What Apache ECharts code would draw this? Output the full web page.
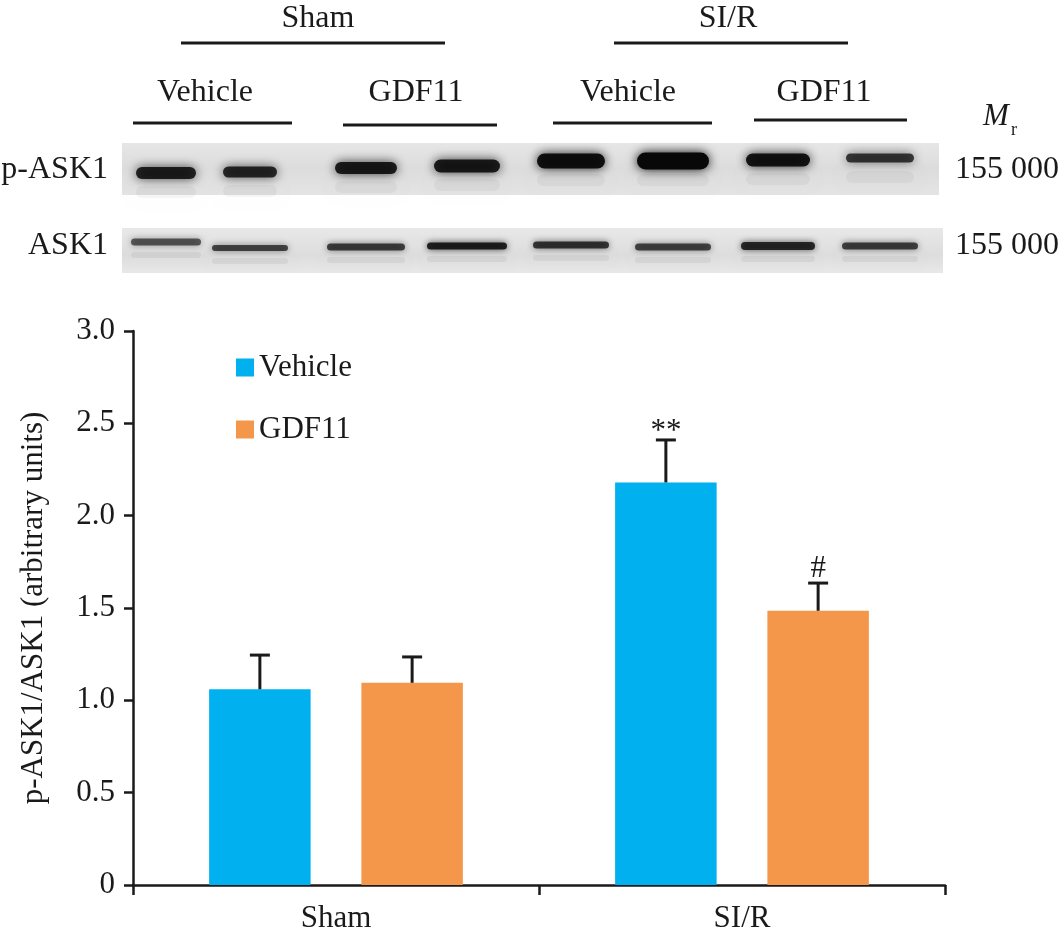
<!DOCTYPE html>
<html>
<head>
    <meta charset="utf-8">
    <title> ECharts </title>
    <script src="https://cdn.jsdelivr.net/npm/echarts@6/dist/echarts.min.js"></script>
    <style>
        html, body { margin: 0; padding: 0; background: #fff; }
    </style>
</head>
<body>

<div id='graph_1' style='width: 1061px;height:935px;'></div>
<script language='javascript' type='text/javascript'>
    // bar chart data
    var categories = ['Sham', 'SI/R'];
    var series_names = ['Vehicle', 'GDF11'];
    var vehicle_mean = [1.06, 2.18];
    var vehicle_upper = [1.245, 2.41];   // mean + error
    var gdf11_mean = [1.095, 1.485];
    var gdf11_upper = [1.235, 1.635];
    var vehicle_marks = ['', '**'];
    var gdf11_marks = ['', '#'];

    // western blot header
    var blot_groups = ['Sham', 'SI/R'];
    var blot_treat = ['Vehicle', 'GDF11', 'Vehicle', 'GDF11'];
    var blot_rows = ['p-ASK1', 'ASK1'];
    var blot_mr = ['155 000', '155 000'];
    // band intensity per lane (0..1), 8 lanes
    var p_ask1_dark = [0.85, 0.82, 0.88, 0.88, 0.95, 1.0, 0.92, 0.75];
    var ask1_dark = [0.6, 0.68, 0.7, 0.85, 0.75, 0.68, 0.8, 0.7];

    var FONT = "'Liberation Serif', 'Times New Roman', serif";
    var INK = '#1a1a1a';
    var BLUE = '#00b0ef';
    var ORANGE = '#f5974a';

    // ---- blot drawing (decorative picture) ----
    var lane_x = [166, 250, 366, 467, 571, 673, 778, 880];
    var p_y = [173, 172, 168, 166, 161, 161, 160, 158];
    var p_w = [60, 54, 62, 66, 68, 72, 64, 68];
    var p_h = [12, 11, 12, 13, 15, 17, 13, 9];
    var t_y = [242, 248, 247, 246, 245, 247, 246, 246];
    var t_w = [70, 76, 78, 80, 76, 76, 74, 76];
    var t_h = [7, 6, 7, 7, 7, 7, 8, 7];

    function band(cx, cy, w, h, d, blur) {
        var c = 'rgba(8,8,8,' + d.toFixed(3) + ')';
        return {
            type: 'rect', silent: true,
            shape: {x: cx - w / 2, y: cy - h / 2, width: w, height: h, r: h / 2},
            style: {fill: c, shadowBlur: blur, shadowColor: c}
        };
    }

    var graphic = [];
    // blot backgrounds
    graphic.push({type: 'rect', silent: true, shape: {x: 122, y: 143, width: 817, height: 52},
        style: {fill: {type: 'linear', x: 0, y: 0, x2: 0, y2: 1, colorStops: [
            {offset: 0, color: '#e6e6e6'}, {offset: 0.5, color: '#dcdcdc'}, {offset: 1, color: '#e4e4e4'}]}}});
    graphic.push({type: 'rect', silent: true, shape: {x: 122, y: 228, width: 821, height: 45},
        style: {fill: {type: 'linear', x: 0, y: 0, x2: 0, y2: 1, colorStops: [
            {offset: 0, color: '#e8e8e8'}, {offset: 0.6, color: '#dddddd'}, {offset: 1, color: '#e8e8e8'}]}}});
    lane_x.forEach(function (x, i) {
        // faint smear under bands
        graphic.push({type: 'rect', silent: true,
            shape: {x: x - p_w[i] / 2, y: p_y[i] + 13, width: p_w[i], height: 12, r: 6},
            style: {fill: 'rgba(0,0,0,0.04)', shadowBlur: 12, shadowColor: 'rgba(0,0,0,0.08)'}});
        graphic.push({type: 'rect', silent: true,
            shape: {x: x - t_w[i] / 2, y: t_y[i] + 10, width: t_w[i], height: 6, r: 3},
            style: {fill: 'rgba(0,0,0,0.05)', shadowBlur: 8, shadowColor: 'rgba(0,0,0,0.08)'}});
        graphic.push(band(x, p_y[i], p_w[i], p_h[i], p_ask1_dark[i], 11));
        graphic.push(band(x, t_y[i], t_w[i], t_h[i], ask1_dark[i], 7));
    });
    // header lines and labels
    var group_line = [[181, 445], [614, 848]];
    var group_cx = [318, 728];
    blot_groups.forEach(function (g, i) {
        var l = group_line[i];
        graphic.push({type: 'line', silent: true, shape: {x1: l[0], y1: 43, x2: l[1], y2: 43},
            style: {stroke: INK, lineWidth: 3}});
        graphic.push({type: 'text', silent: true, x: group_cx[i], y: 19,
            style: {text: g, font: '32px ' + FONT, fill: INK, align: 'center', verticalAlign: 'middle'}});
    });
    var treat_line = [[133, 292, 123], [343, 497, 125], [553, 712, 123], [754, 907, 120]];
    var treat_cx = [205, 416, 628, 824];
    blot_treat.forEach(function (t, i) {
        var l = treat_line[i];
        graphic.push({type: 'line', silent: true, shape: {x1: l[0], y1: l[2], x2: l[1], y2: l[2]},
            style: {stroke: INK, lineWidth: 3}});
        graphic.push({type: 'text', silent: true, x: treat_cx[i], y: 93,
            style: {text: t, font: '32px ' + FONT, fill: INK, align: 'center', verticalAlign: 'middle'}});
    });
    var row_y = [170, 246];
    blot_rows.forEach(function (r, i) {
        graphic.push({type: 'text', silent: true, x: 108, y: row_y[i],
            style: {text: r, font: '32px ' + FONT, fill: INK, align: 'right', verticalAlign: 'middle'}});
        graphic.push({type: 'text', silent: true, x: 1059, y: row_y[i],
            style: {text: blot_mr[i], font: '32px ' + FONT, fill: INK, align: 'right', verticalAlign: 'middle'}});
    });
    graphic.push({type: 'text', silent: true, x: 983, y: 117,
        style: {text: 'M', font: 'italic 31px ' + FONT, fill: INK, align: 'left', verticalAlign: 'middle'}});
    graphic.push({type: 'text', silent: true, x: 1011, y: 130,
        style: {text: 'r', font: '18px ' + FONT, fill: INK, align: 'left', verticalAlign: 'middle'}});

    // ---- error bar data ----
    var err_data = [];
    categories.forEach(function (c, i) {
        err_data.push([i, vehicle_mean[i], vehicle_upper[i], 0, vehicle_marks[i]]);
        err_data.push([i, gdf11_mean[i], gdf11_upper[i], 1, gdf11_marks[i]]);
    });
    // glyph-dependent vertical nudge for the significance marks
    var mark_nudge = {'**': 10, '#': 4};

    function renderErr(params, api) {
        var idx = api.value(0);
        var band_w = api.size([1, 0])[0];
        var side = api.value(3) === 0 ? -1 : 1;
        var off = side * band_w * 0.25 * 1.5 / 2;
        var base = api.coord([idx, api.value(1)]);
        var top = api.coord([idx, api.value(2)]);
        var x = base[0] + off;
        var mark = err_data[params.dataIndex][4];
        var kids = [
            {type: 'line', shape: {x1: x, y1: base[1], x2: x, y2: top[1]},
             style: {stroke: INK, lineWidth: 3}},
            {type: 'line', shape: {x1: x - 10, y1: top[1], x2: x + 10, y2: top[1]},
             style: {stroke: INK, lineWidth: 3}}
        ];
        if (mark) {
            kids.push({type: 'text', x: x, y: top[1] - 3 + (mark_nudge[mark] || 0),
                style: {text: mark, font: '31px ' + FONT, fill: INK, align: 'center',
                        verticalAlign: 'bottom'}});
        }
        return {type: 'group', children: kids};
    }

    var x = document.getElementById('graph_1');
    var myChart = echarts.init(x, null, {renderer: 'canvas'});
    var option = {
        animation: false,
        textStyle: {fontFamily: FONT},
        graphic: graphic,
        legend: {
            orient: 'vertical', left: 231, top: 347,
            itemWidth: 18, itemHeight: 18, itemGap: 31,
            icon: 'rect',
            data: series_names,
            textStyle: {fontFamily: FONT, fontSize: 31, color: INK, padding: [0, 0, 0, 0]}
        },
        grid: {left: 133, top: 331, right: 116, bottom: 50},
        xAxis: {
            type: 'category', data: categories,
            axisLine: {lineStyle: {color: INK, width: 2.5}},
            axisTick: {show: true, length: 10, alignWithLabel: false, lineStyle: {color: INK, width: 2.5}},
            axisLabel: {fontFamily: FONT, fontSize: 31, color: INK, margin: 18}
        },
        yAxis: {
            type: 'value', min: 0, max: 3, interval: 0.5,
            name: 'p-ASK1/ASK1 (arbitrary units)',
            nameLocation: 'middle', nameGap: 84,
            nameTextStyle: {fontFamily: FONT, fontSize: 31, color: INK},
            splitLine: {show: false},
            axisLine: {show: true, lineStyle: {color: INK, width: 2.5}},
            axisTick: {show: true, length: 9, lineStyle: {color: INK, width: 2.5}},
            axisLabel: {fontFamily: FONT, fontSize: 31, color: INK, margin: 18,
                formatter: function (v) { return v === 0 ? '0' : v.toFixed(1); }}
        },
        series: [
            {name: series_names[0], type: 'bar', data: vehicle_mean, barWidth: '25%', barGap: '50%',
             itemStyle: {color: BLUE}},
            {name: series_names[1], type: 'bar', data: gdf11_mean, barWidth: '25%', barGap: '50%',
             itemStyle: {color: ORANGE}},
            {type: 'custom', data: err_data, renderItem: renderErr, z: 5,
             encode: {x: 0, y: [1, 2]}, silent: true}
        ]
    };

    myChart.setOption(option);
</script>
</body>
</html>
